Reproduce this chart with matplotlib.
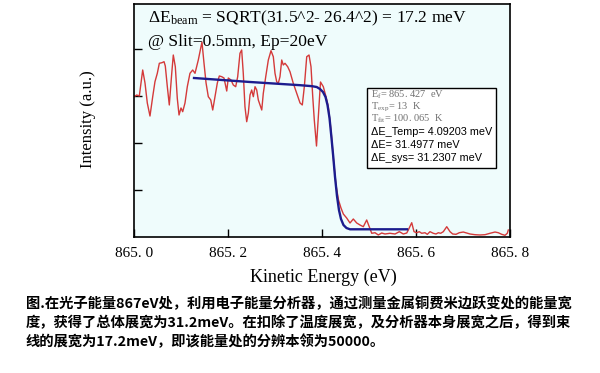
import numpy as np
import matplotlib
matplotlib.use('Agg')
import matplotlib.pyplot as plt
from matplotlib.patches import Rectangle

plt.rcParams['mathtext.fontset'] = 'custom'
plt.rcParams['mathtext.rm'] = 'Liberation Serif'
plt.rcParams['mathtext.it'] = 'Liberation Serif:italic'

energy = [865.0000, 865.0057, 865.0113, 865.0185, 865.0234, 865.0283, 865.0340, 865.0398,
          865.0446, 865.0496, 865.0539, 865.0596, 865.0639, 865.0666, 865.0709, 865.0751,
          865.0803, 865.0836, 865.0879, 865.0921, 865.0958, 865.1000, 865.1036, 865.1085,
          865.1134, 865.1191, 865.1249, 865.1298, 865.1368, 865.1446, 865.1489, 865.1533,
          865.1581, 865.1633, 865.1675, 865.1724, 865.1773, 865.1815, 865.1866, 865.1915,
          865.1973, 865.2006, 865.2064, 865.2113, 865.2164, 865.2206, 865.2255, 865.2291,
          865.2325, 865.2361, 865.2398, 865.2433, 865.2468, 865.2504, 865.2539, 865.2575,
          865.2611, 865.2645, 865.2681, 865.2718, 865.2751, 865.2803, 865.2858, 865.2915,
          865.2964, 865.3000, 865.3036, 865.3070, 865.3106, 865.3143, 865.3176, 865.3213,
          865.3270, 865.3319, 865.3389, 865.3461, 865.3533, 865.3581, 865.3624, 865.3675,
          865.3724, 865.3766, 865.3803, 865.3836, 865.3883, 865.3968, 865.4028, 865.4085,
          865.4134, 865.4191, 865.4245, 865.4298, 865.4351, 865.4404, 865.4454, 865.4525,
          865.4596, 865.4666, 865.4739, 865.4809, 865.4879, 865.4951, 865.5006, 865.5058,
          865.5128, 865.5198, 865.5270, 865.5340, 865.5446, 865.5554, 865.5645, 865.5730,
          865.5803, 865.5836, 865.5909, 865.5958, 865.6015, 865.6070, 865.6121, 865.6191,
          865.6241, 865.6298, 865.6368, 865.6425, 865.6475, 865.6525, 865.6581, 865.6654,
          865.6724, 865.6781, 865.6851, 865.6921, 865.7006, 865.7079, 865.7149, 865.7255,
          865.7361, 865.7468, 865.7575, 865.7681, 865.7751, 865.7824, 865.7894, 865.7943,
          865.7964]
intensity = [2.985, 3.021, 3.000, 3.553, 3.277, 2.851, 2.574, 2.985,
             3.304, 3.483, 3.696, 3.709, 3.730, 3.638, 3.198, 2.809,
             3.483, 3.872, 3.623, 2.951, 2.596, 2.745, 2.666, 2.851,
             3.198, 3.483, 3.553, 3.483, 3.766, 4.149, 3.702, 3.277,
             2.985, 2.915, 2.702, 2.985, 3.277, 3.426, 3.411, 3.383,
             3.106, 3.383, 3.340, 3.234, 3.198, 3.411, 3.909, 3.979,
             3.483, 2.772, 2.453, 2.638, 3.021, 3.128, 2.985, 3.198,
             3.128, 2.915, 2.809, 2.702, 3.057, 3.411, 3.766, 3.964,
             3.836, 3.483, 3.304, 3.270, 3.411, 3.766, 3.660, 3.696,
             3.623, 3.517, 3.270, 3.057, 2.851, 2.809, 3.198, 3.836,
             3.872, 3.623, 2.985, 2.489, 1.936, 3.298, 3.198, 2.985,
             2.772, 2.277, 1.638, 1.106, 0.787, 0.617, 0.489, 0.404,
             0.298, 0.383, 0.298, 0.255, 0.219, 0.362, 0.219, 0.079,
             0.091, 0.043, 0.085, 0.064, 0.079, 0.064, 0.113, 0.064,
             0.085, 0.149, 0.304, 0.113, 0.091, 0.113, 0.079, 0.091,
             0.057, 0.113, 0.079, 0.064, 0.091, 0.079, 0.113, 0.219,
             0.113, 0.064, 0.057, 0.091, 0.106, 0.085, 0.064, 0.049,
             0.043, 0.049, 0.079, 0.106, 0.091, 0.057, 0.036, 0.079,
             0.149]

# fermi edge fit
fit_energy = [865.1277, 865.2468, 865.3533, 865.3787, 865.3888, 865.3957, 865.4021,
              865.4075, 865.4117, 865.4160, 865.4202, 865.4240, 865.4277, 865.4319,
              865.4361, 865.4404, 865.4457, 865.4521, 865.4596, 865.5809]
fit_intensity = [3.383, 3.298, 3.230, 3.209, 3.191, 3.149, 3.085,
                 2.979, 2.809, 2.532, 2.106, 1.702, 1.277, 0.872,
                 0.574, 0.383, 0.255, 0.191, 0.164, 0.164]

xticks = [865.0, 865.2, 865.4, 865.6, 865.8]
xtick_labels = ['865. 0', '865. 2', '865. 4', '865. 6', '865. 8']
yticks = [1, 2, 3, 4]

W, H = 600, 373
fig = plt.figure(figsize=(6, 3.73), dpi=100)
ax = fig.add_axes([134 / W, 1 - 237 / H, 376 / W, 233 / H])
ax.set_facecolor('#effcfc')

ax.plot(energy, intensity, color='#d43a3a', linewidth=1.0)
ax.plot(fit_energy, fit_intensity, color='#1c1c8e', linewidth=1.7)

ax.set_xlim(865.0, 865.8)
ax.set_ylim(0, 233 / 47)
ax.set_xticks(xticks)
ax.set_xticklabels(xtick_labels, family='Liberation Serif', fontsize=11)
ax.set_yticks(yticks)
ax.set_yticklabels([])
ax.tick_params(direction='in', length=5.5, width=1.0, top=False, right=False, pad=7)
for s in ax.spines.values():
    s.set_linewidth(1.2)

fig.text(88 / W, 1 - 119 / H, 'Intensity (a.u.)', rotation=90, ha='center', va='center',
         family='Liberation Serif', fontsize=12)
fig.text(323 / W, 1 - 277 / H, 'Kinetic Energy (eV)', ha='center', va='center',
         family='Liberation Serif', fontsize=13)

fig.text(148 / W, 1 - 18 / H, r'ΔE$_{\mathrm{beam}}$ = SQRT(31.5^2- 26.4^2) = 17.2 meV',
         va='center', family='Liberation Serif', fontsize=12.6)
fig.text(148 / W, 1 - 42 / H, '@ Slit=0.5mm, Ep=20eV', va='center',
         family='Liberation Serif', fontsize=12.6)

# info box
fig.patches.append(Rectangle((367 / W, 1 - 168 / H), 129 / W, 80 / H, transform=fig.transFigure,
                             facecolor='white', edgecolor='black', linewidth=1.0, zorder=3))
serif_lines = [r'E$_{\mathrm{f}}$= 865. 427  eV', r'T$_{\mathrm{exp}}$= 13  K', r'T$_{\mathrm{fit}}$= 100. 065  K']
serif_y = [95, 107, 119]
for t, yy in zip(serif_lines, serif_y):
    fig.text(371 / W, 1 - yy / H, t, va='center', family='Liberation Serif', fontsize=7.5,
             color='#707070', zorder=4)
sans_lines = ['ΔE_Temp= 4.09203 meV', 'ΔE= 31.4977 meV', 'ΔE_sys= 31.2307 meV']
sans_y = [132, 145, 158]
for t, yy in zip(sans_lines, sans_y):
    fig.text(371 / W, 1 - yy / H, t, va='center', family='Liberation Sans', fontsize=7.8,
             color='black', zorder=4)

caption = ['图.在光子能量867eV处，利用电子能量分析器，通过测量金属铜费米边跃变处的能量宽',
           '度，获得了总体展宽为31.2meV。在扣除了温度展宽，及分析器本身展宽之后，得到束',
           '线的展宽为17.2meV，即该能量处的分辨本领为50000。']
cap_y = [304, 323, 342]
for t, yy in zip(caption, cap_y):
    fig.text(26 / W, 1 - yy / H, t, va='center', family=['Noto Sans CJK SC', 'DejaVu Sans'],
             fontweight='bold', fontsize=10.3)

fig.savefig('out.png', dpi=100)
